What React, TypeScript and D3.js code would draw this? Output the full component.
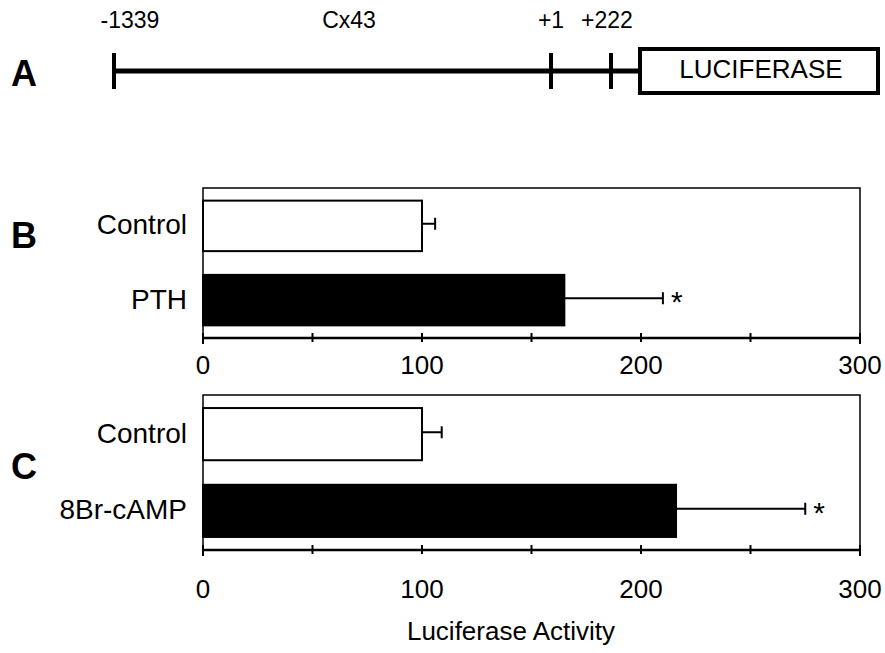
import { useEffect, useRef } from 'react'
import * as d3 from 'd3'

// construct map (panel A)
const constructSites = [-1339, 1, 222]
const constructLabels = ['-1339', '+1', '+222']
const constructName = 'Cx43'
const reporterName = 'LUCIFERASE'

// panel B
const catsB = ['Control', 'PTH']
const valuesB = [100, 165]
const errorsB = [6, 45]
const sigB = [false, true]

// panel C
const catsC = ['Control', '8Br-cAMP']
const valuesC = [100, 216]
const errorsC = [9, 59]
const sigC = [false, true]

const ticks = [0, 50, 100, 150, 200, 250, 300]
const tickLabels = [0, 100, 200, 300]
const xTitle = 'Luciferase Activity'

const FONT = 'Liberation Sans, Arial, Helvetica, sans-serif'

const App = () => {
  const svgRef = useRef(null)

  useEffect(() => {
    const svg = d3.select(svgRef.current)
    svg.selectAll('*').remove()

    const width = 885
    const height = 653
    svg.attr('width', width).attr('height', height)

    // panel letters
    const letters = [
      { t: 'A', y: 73 },
      { t: 'B', y: 235 },
      { t: 'C', y: 466 },
    ]
    svg
      .selectAll('text.letter')
      .data(letters)
      .enter()
      .append('text')
      .attr('class', 'letter')
      .attr('x', 11)
      .attr('y', (d) => d.y)
      .attr('dominant-baseline', 'central')
      .style('font-family', FONT)
      .style('font-weight', 'bold')
      .style('font-size', '36px')
      .text((d) => d.t)

    // ---- panel A: promoter construct ----
    const mapX = d3.scaleLinear().domain(constructSites).range([114, 551, 611])
    const lineY = 71
    const boxX0 = 638
    const boxX1 = 880
    const gA = svg.append('g')
    gA.append('line')
      .attr('x1', mapX(constructSites[0]))
      .attr('x2', boxX0)
      .attr('y1', lineY)
      .attr('y2', lineY)
      .attr('stroke', '#000')
      .attr('stroke-width', 5)
    gA.selectAll('line.site')
      .data(constructSites)
      .enter()
      .append('line')
      .attr('class', 'site')
      .attr('x1', (d) => mapX(d))
      .attr('x2', (d) => mapX(d))
      .attr('y1', 53)
      .attr('y2', 89)
      .attr('stroke', '#000')
      .attr('stroke-width', 4)
    const labelDx = [16, 0, -4]
    gA.selectAll('text.site')
      .data(constructSites)
      .enter()
      .append('text')
      .attr('class', 'site')
      .attr('x', (d, i) => mapX(d) + labelDx[i])
      .attr('y', 20)
      .attr('text-anchor', 'middle')
      .attr('dominant-baseline', 'central')
      .style('font-family', FONT)
      .style('font-size', '23px')
      .text((d, i) => constructLabels[i])
    gA.append('text')
      .attr('x', 349)
      .attr('y', 20)
      .attr('text-anchor', 'middle')
      .attr('dominant-baseline', 'central')
      .style('font-family', FONT)
      .style('font-size', '23px')
      .text(constructName)
    gA.append('rect')
      .attr('x', boxX0 + 2)
      .attr('y', 49)
      .attr('width', boxX1 - boxX0 - 4)
      .attr('height', 44)
      .attr('fill', '#fff')
      .attr('stroke', '#000')
      .attr('stroke-width', 4)
    gA.append('text')
      .attr('x', (boxX0 + boxX1) / 2 + 2)
      .attr('y', 69)
      .attr('text-anchor', 'middle')
      .attr('dominant-baseline', 'central')
      .style('font-family', FONT)
      .style('font-size', '26px')
      .text(reporterName)

    // ---- bar panels ----
    const x = d3.scaleLinear().domain([0, 300]).range([203, 860])

    function drawPanel(cats, values, errors, sig, top, bottom, labelY) {
      const g = svg.append('g')
      const y = d3
        .scaleBand()
        .domain(cats)
        .range([top, bottom])
        .paddingInner(0.32)
        .paddingOuter(0.17)

      // frame (top, left, right)
      g.append('path')
        .attr('d', `M${x(0)},${bottom}V${top}H${x(300)}V${bottom}`)
        .attr('fill', 'none')
        .attr('stroke', '#000')
        .attr('stroke-width', 1.5)

      // bars
      g.selectAll('rect.bar')
        .data(cats)
        .enter()
        .append('rect')
        .attr('class', 'bar')
        .attr('x', x(0))
        .attr('y', (d) => y(d))
        .attr('width', (d, i) => x(values[i]) - x(0))
        .attr('height', y.bandwidth())
        .attr('fill', (d, i) => (i === 0 ? '#fff' : '#000'))
        .attr('stroke', '#000')
        .attr('stroke-width', 2)

      // error bars
      g.selectAll('path.err')
        .data(cats)
        .enter()
        .append('path')
        .attr('class', 'err')
        .attr('d', (d, i) => {
          const cy = y(d) + y.bandwidth() / 2 - 2
          const x0 = x(values[i])
          const x1 = x(values[i] + errors[i])
          return `M${x0},${cy}H${x1}M${x1},${cy - 6}V${cy + 6}`
        })
        .attr('fill', 'none')
        .attr('stroke', '#000')
        .attr('stroke-width', 2)

      g.selectAll('text.sig')
        .data(cats.filter((d, i) => sig[i]))
        .enter()
        .append('text')
        .attr('class', 'sig')
        .attr('x', (d) => {
          const i = cats.indexOf(d)
          return x(values[i] + errors[i]) + 8
        })
        .attr('y', (d) => y(d) + y.bandwidth() / 2 + 12)
        .style('font-family', FONT)
        .style('font-size', '30px')
        .text('*')

      // category labels
      g.selectAll('text.cat')
        .data(cats)
        .enter()
        .append('text')
        .attr('class', 'cat')
        .attr('x', 187)
        .attr('y', (d) => y(d) + y.bandwidth() / 2 - 1)
        .attr('text-anchor', 'end')
        .attr('dominant-baseline', 'central')
        .style('font-family', FONT)
        .style('font-size', '28px')
        .text((d) => d)

      // axis
      g.append('line')
        .attr('x1', x(0))
        .attr('x2', x(300))
        .attr('y1', bottom)
        .attr('y2', bottom)
        .attr('stroke', '#000')
        .attr('stroke-width', 2.5)
      g.selectAll('line.tick')
        .data(ticks)
        .enter()
        .append('line')
        .attr('class', 'tick')
        .attr('x1', (d) => x(d))
        .attr('x2', (d) => x(d))
        .attr('y1', bottom - 5)
        .attr('y2', (d) => (d === 0 || d === 300 ? bottom + 6 : bottom + 4))
        .attr('stroke', '#000')
        .attr('stroke-width', 2)
      g.selectAll('text.tl')
        .data(tickLabels)
        .enter()
        .append('text')
        .attr('class', 'tl')
        .attr('x', (d) => x(d))
        .attr('y', labelY)
        .attr('text-anchor', 'middle')
        .attr('dominant-baseline', 'central')
        .style('font-family', FONT)
        .style('font-size', '26px')
        .text((d) => d)
    }

    drawPanel(catsB, valuesB, errorsB, sigB, 188, 338, 365)
    drawPanel(catsC, valuesC, errorsC, sigC, 395, 550, 589)

    svg
      .append('text')
      .attr('x', 511)
      .attr('y', 631)
      .attr('text-anchor', 'middle')
      .attr('dominant-baseline', 'central')
      .style('font-family', FONT)
      .style('font-size', '26px')
      .text(xTitle)
  }, [])

  return (
    <div style={{ position: 'absolute', left: 0, top: 0 }}>
      <svg ref={svgRef} style={{ display: 'block', background: '#fff' }}></svg>
    </div>
  )
}

export default App
